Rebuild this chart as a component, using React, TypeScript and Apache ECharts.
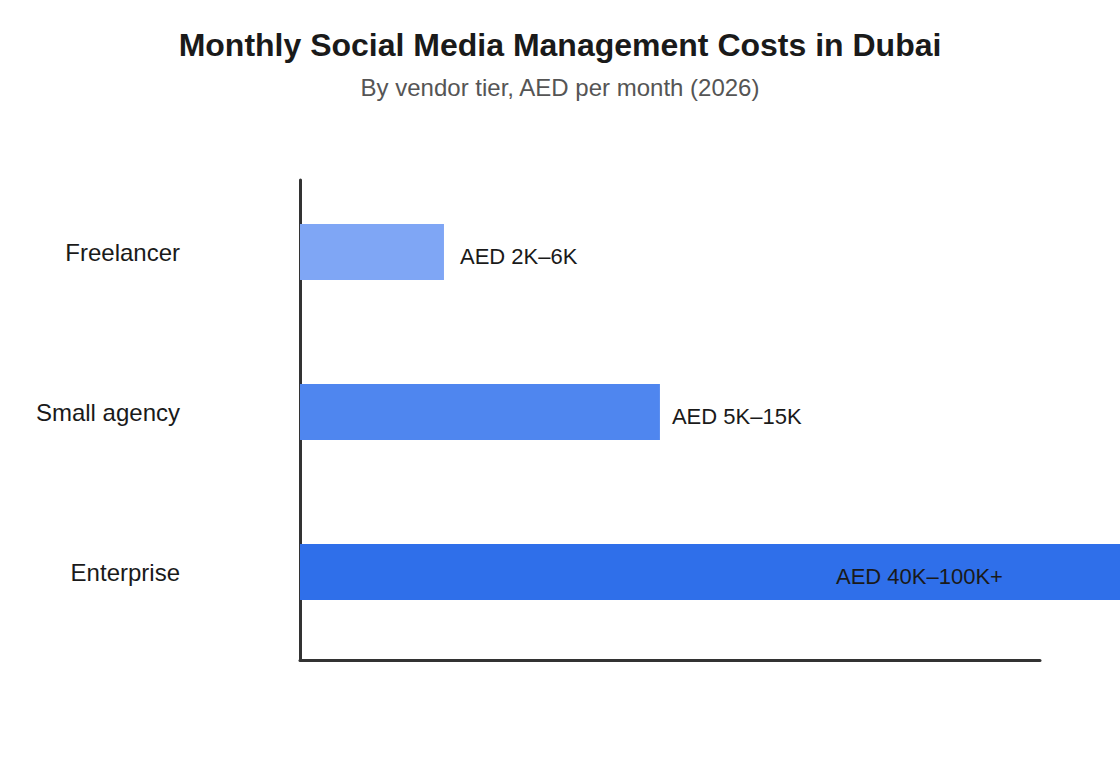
import React, { useEffect, useRef } from "react";
import * as echarts from "echarts";

const categories = ["Freelancer", "Small agency", "Enterprise"];
// Monthly cost ranges in thousands of AED
const lowK = [2, 5, 40];
const highK = [6, 15, 100];
// Bar length: midpoint of each range (thousand AED)
const barValues = [4, 10, 70];
const rangeLabels = ["AED 2K–6K", "AED 5K–15K", "AED 40K–100K+"];
const barColors = ["#7fa6f5", "#4f86ef", "#2f6fea"];

const FONT = "'Liberation Sans', Arial, Helvetica, sans-serif";

export default function App() {
  const ref = useRef<HTMLDivElement>(null);

  useEffect(() => {
    if (!ref.current) return;
    const chart = echarts.init(ref.current, undefined, { renderer: "svg" });

    const labelStyles: any[] = [
      { position: "right", distance: 16 },
      { position: "right", distance: 12 },
      { position: [536, "50%"], align: "left", verticalAlign: "middle" },
    ];

    const data = categories.map((c, i) => ({
      name: c,
      value: barValues[i],
      low: lowK[i],
      high: highK[i],
      itemStyle: { color: barColors[i] },
      label: {
        show: true,
        formatter: rangeLabels[i],
        ...labelStyles[i],
      },
    }));

    const option: any = {
      animation: false,
      backgroundColor: "#ffffff",
      textStyle: { fontFamily: FONT },
      title: {
        text: "Monthly Social Media Management Costs in Dubai",
        subtext: "By vendor tier, AED per month (2026)",
        left: "center",
        top: 24,
        itemGap: 14,
        textStyle: {
          fontFamily: FONT,
          fontSize: 32,
          fontWeight: "bold",
          color: "#1a1a1a",
        },
        subtextStyle: {
          fontFamily: FONT,
          fontSize: 24,
          color: "#555555",
        },
      },
      grid: [
        { left: 300, top: 172, width: 740, height: 480, containLabel: false },
        { left: 300, top: 180, width: 740, height: 480, containLabel: false },
      ],
      xAxis: [
        {
          gridIndex: 0,
          type: "value",
          min: 0,
          max: 20.56,
          show: false,
        },
        {
          gridIndex: 1,
          type: "value",
          min: 0,
          max: 1,
          axisLine: { show: true, onZero: false, lineStyle: { color: "#333333", width: 3 } },
          axisTick: { show: false },
          axisLabel: { show: false },
          splitLine: { show: false },
        },
      ],
      yAxis: [
        {
          gridIndex: 0,
          type: "category",
          inverse: true,
          data: categories,
          axisLine: { show: false },
          axisTick: { show: false },
          axisLabel: {
            margin: 120,
            fontSize: 24,
            color: "#1a1a1a",
            fontFamily: FONT,
          },
        },
        {
          gridIndex: 1,
          type: "value",
          min: 0,
          max: 1,
          axisLine: { show: true, onZero: false, lineStyle: { color: "#333333", width: 3 } },
          axisTick: { show: false },
          axisLabel: { show: false },
          splitLine: { show: false },
        },
      ],
      series: [
        {
          type: "bar",
          xAxisIndex: 0,
          yAxisIndex: 0,
          barWidth: 56,
          clip: false,
          data,
          label: {
            show: true,
            fontSize: 22,
            color: "#1a1a1a",
            fontFamily: FONT,
            offset: [0, 4],
          },
        },
      ],
    };

    chart.setOption(option);
    return () => chart.dispose();
  }, []);

  return (
    <div
      style={{
        position: "absolute",
        left: 0,
        top: 0,
        width: 1120,
        height: 760,
        overflow: "hidden",
        background: "#ffffff",
      }}
    >
      <div ref={ref} style={{ width: 1120, height: 760 }} />
    </div>
  );
}
